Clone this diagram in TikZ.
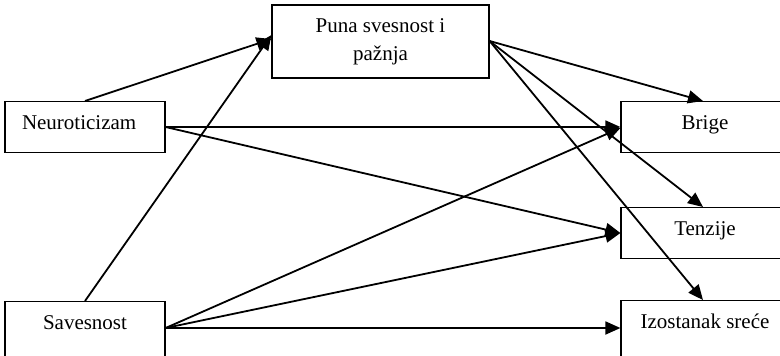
\documentclass[tikz,border=0pt]{standalone}
\usepackage{fontspec}
\setmainfont{Liberation Serif}
\usetikzlibrary{arrows.meta}
\begin{document}
\begin{tikzpicture}[x=1pt,y=-1pt,
  box/.style={draw, line width=1.2pt, rectangle, inner xsep=4pt, inner ysep=13pt,
    text height=14.5pt, text depth=10pt, font=\fontsize{21}{28}\selectfont, anchor=north},
  tallbox/.style={box, text depth=50pt},
  conn/.style={line width=1.8pt, -{Triangle[length=15pt,width=13pt]}},
  line join=miter]
\useasboundingbox (0,0) rectangle (780,356);
\clip (0,0) rectangle (780,356);
\node[box, text width=126pt, inner xsep=17pt, align=left] (neuro) at (85,101) {Neuroticizam};
\node[tallbox, minimum width=160pt] (save) at (85,301) {Savesnost};
\node[draw, line width=1.2pt, minimum width=217pt, minimum height=73pt, align=center,
  font=\fontsize{21}{28}\selectfont] (pun) at (380.5,41.5) {Puna svesnost i\\pažnja};
\node[box, minimum width=168pt] (brige) at (705,101) {Brige};
\node[box, minimum width=168pt] (tenz) at (705,207) {Tenzije};
\node[tallbox, minimum width=168pt] (izo) at (705,300) {Izostanak sreće};
% connectors
\draw[conn] (neuro.north) -- ([yshift=2.5pt]pun.west);
\draw[conn] (save.north) -- ([yshift=6.5pt]pun.west);
\draw[conn] (neuro.east |- 0,127) -- (brige.west |- 0,127);
\draw[conn] (neuro.east |- 0,127) -- (tenz.west |- 0,233);
\draw[conn] (save.east |- 0,328) -- (brige.west |- 0,128);
\draw[conn] (save.east |- 0,328) -- (tenz.west |- 0,233);
\draw[conn] (save.east |- 0,328) -- (izo.west |- 0,328);
\draw[conn] ([yshift=0.5pt]pun.east) -- ([xshift=-2pt]brige.north);
\draw[conn] ([yshift=0.5pt]pun.east) -- ([xshift=-2pt]tenz.north);
\draw[conn] ([yshift=0.5pt]pun.east) -- ([xshift=-2pt]izo.north);
\end{tikzpicture}
\end{document}
